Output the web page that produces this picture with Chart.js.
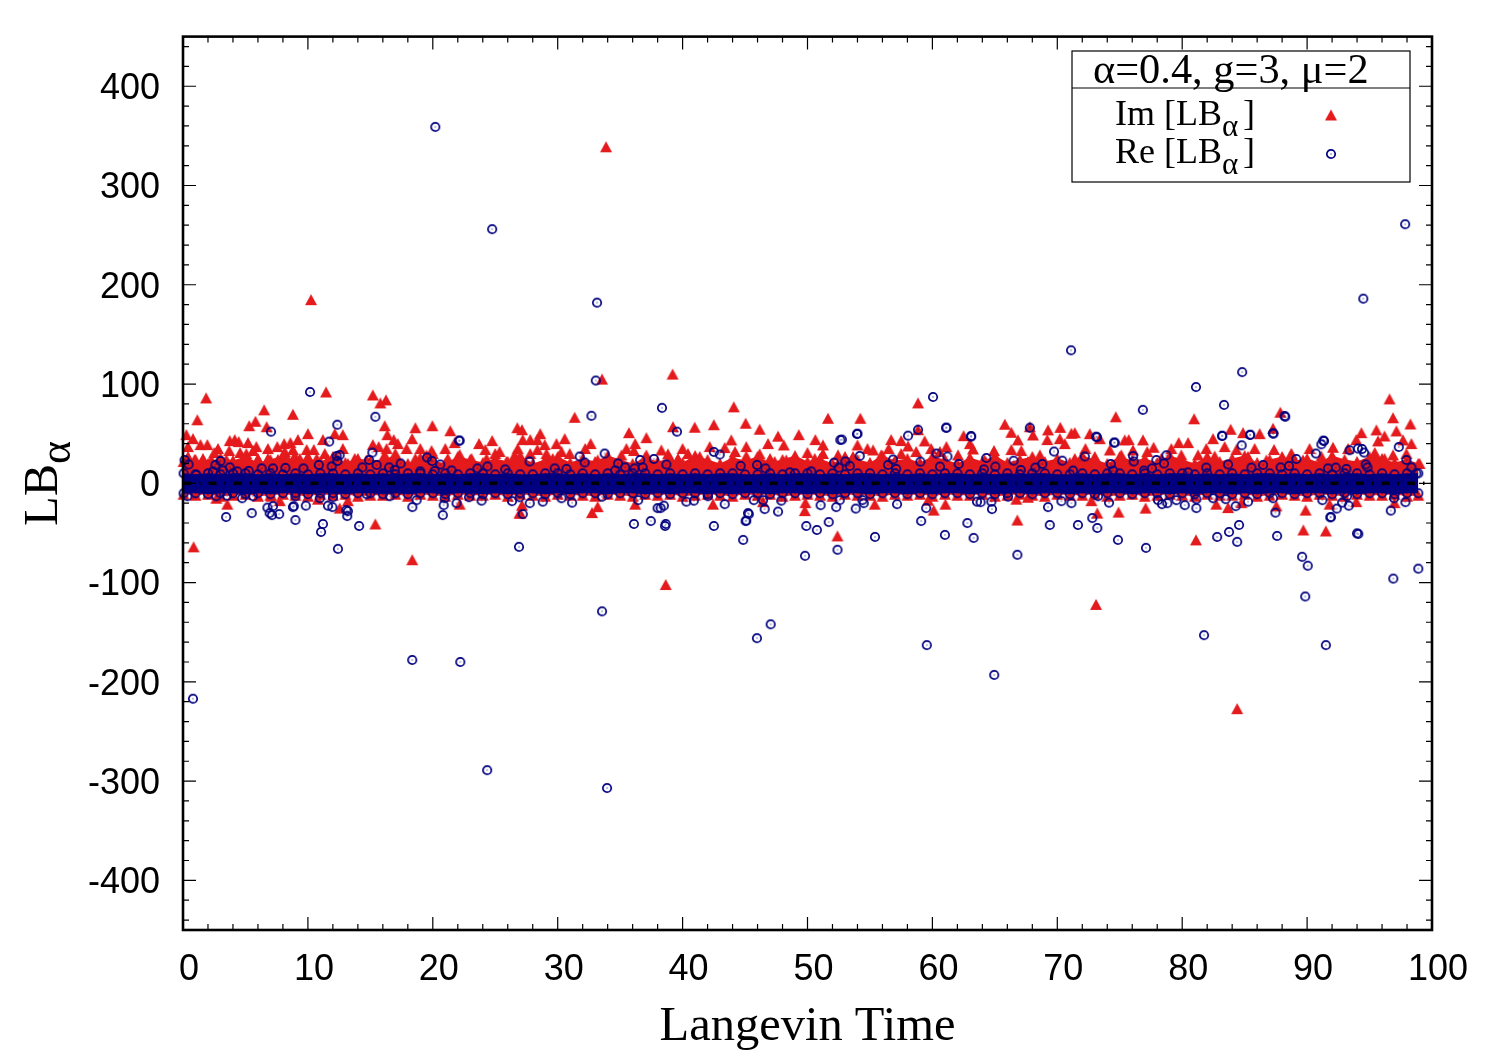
<!DOCTYPE html>
<html>
<head>
<meta charset="utf-8">
<title>LB alpha</title>
<script src="https://cdn.jsdelivr.net/npm/chart.js@4"></script>
<style>
  html, body { margin: 0; padding: 0; background: #fff; }
  #wrap { width: 1500px; height: 1050px; }
</style>
</head>
<body>
<div id="wrap"><canvas id="chart" width="1500" height="1050"></canvas></div>
<script>
const xTicks = [0, 10, 20, 30, 40, 50, 60, 70, 80, 90, 100];
const yTicks = [-400, -300, -200, -100, 0, 100, 200, 300, 400];

// Im points
const imTimes = [
  33.87,10.25,11.45,1.85,15.2,16.25,15.8,33.55,39.2,44.1,
  58.85,96.6,6.5,8.8,0.85,18.35,38.65,73.1,84.4,15.4,
  52.4,81.1,66.8,89.7,91.5,32.75,27,26.95,33.2,27.14,
  1.15,5.8,5.3,6.7,10,12.15,11.2,0.27,0.8,1.4,
  1.95,3.74,4.14,4.46,5.2,8.1,8.6,9.2,7.55,2.8,
  2.5,3.7,4.57,5.87,6.8,5.6,5.07,8.15,8.8,8.95,
  9.9,10.47,11.35,0.4,0.4,1.6,0.93,2.27,3.47,6,
  6.8,7.6,8.4,9.35,10,10.7,11.6,12.3,3.55,7.08,
  7.75,2.67,10.8,16.15,18.6,19.97,21.4,16.36,16.87,18.34,
  15.2,15.67,12.8,12.8,17.2,17.9,19,19.9,21.75,21,
  23.7,24.75,24.2,22.15,23.1,13.75,13.2,14.7,16.3,16.15,
  17,18.6,19.5,20,21.2,24.3,25,22.15,13.2,12.55,
  31.36,26.77,27.14,28.6,30.56,35.7,37.1,36.2,27.2,27.8,
  28.37,29.9,28.96,32.64,32.2,25.35,26.8,28.37,27.8,30.3,
  30.96,35.5,36.1,26.55,29.1,29.6,37.1,33.2,25.9,35.1,
  36.2,39.23,40.97,42.5,45.05,46.17,49.3,50.63,47.64,46.84,
  48.1,43.9,42.17,40,45.1,38.3,38.83,43.37,44.2,40.43,
  41.37,45.1,46.17,47,48.3,50,50.58,49.1,47.37,39.63,
  42.43,49.78,49.83,46.44,51.64,54.23,58.85,62.5,56.7,57.5,
  59.38,51.24,54,56.5,54.8,58.05,61.12,63,51.24,52.44,
  53.64,55.25,55.9,58.7,59.9,62.05,63.25,62.85,57.5,60.6,
  55.38,60.1,61.04,59.65,74.68,65.8,67.8,68.05,66.32,69.26,
  70.24,71.13,71.4,72.6,66.85,69.2,70.2,73.4,70.6,75.4,
  75.72,66.32,64.93,67.12,68.6,72.25,74.2,75.13,76.06,71.4,
  73,67.65,69.8,64.18,73.2,74.9,72.73,67.65,66.72,80.95,
  87.86,83.88,84.87,86.2,87.27,76.86,79.72,80.47,77.71,82.47,
  81.93,83.4,84.34,85.8,87.35,79.13,77.2,81.27,82.6,85.27,
  88.07,88.74,79.93,78.33,86.74,77.07,82.73,83.67,87.54,84.74,
  96.88,98.27,97.15,95.55,94.35,96.2,95.68,93.94,97.68,98.35,
  90.2,92.07,88.74,93.28,95.42,96.88,97.95,99,91.14,89.67,
  96.2,89.88,91.8,93.94,97
];
const imValues = [
  339,185,92,86,89,84,81,105,110,77,
  81,85,74,69.5,-64,-77,-102,-122,-227,-41,
  -53,-57,-37,-47,-48,-29.5,-30,-30,-23.5,-22,
  64,62.5,58,57,50,50,44,49,45,39,
  39,43,44,42,41,40,41,44,37,35,
  31,33,31,37,35,33,30,32,34,28,
  34,34,30,37,27,25,24,24,24,25,
  25,24,24,25,27,25,24,27,-21,-13,
  -17.5,-15,-16,58,56,58,53,49,44,45,
  39,37,49,35,40,35,35,33,41,35,
  40,43,34,29,25,25,20,23.5,35,28.5,
  30,25,28.5,30,25,25,30,-21,-17.5,-25,
  66.5,56,54,50,45,51,46,40,44,44,
  44,40,39,40,35,32,35,34,30,32,
  30,35,33,28.5,30,25,28.5,23.5,22,28.5,
  -21,57,56.5,59,60.5,54.5,49,44,47.5,40,
  38.6,43.7,37,35,37,33.6,29.6,36,32,30,
  27,27.5,29.6,25,23.5,31,25,20,22,25,
  -21,-27.5,-19.5,-18.5,65.5,65.5,54,48,44,43,
  42.7,38.6,38.6,35,35,37.6,37,40,30,28.6,
  27,33.6,28.6,32,35,28.6,34.6,20,30,32,
  -21,-27,-21,-17,67,59.5,57,48.7,51.4,53.8,
  56.4,50.4,51,50,43.7,44,45,45,40,43.7,
  44,34,33,33,28.6,35,33.6,28.6,33.6,25,
  27,22,20,23.5,-30,-29,-17.5,-14,-16,65,
  71.6,54.4,51,50,55.4,43.7,41,41,36.3,45,
  35,37,34,35,34,35,32,28.6,27.5,27,
  23.5,29.6,28.6,25,23.5,-25,-21,-24.5,-22.8,-19.5,
  66,59.8,52.8,53.8,51,47.7,42.7,44,43.7,40,
  35,36.3,29.6,35,31,28.6,30,20,27.5,23.5,
  25,-27,-21,-18.5,-19.5
];

// Re points
const reTimes = [
  20.2,24.75,33.15,97.85,94.5,71.1,33.05,84.8,81.1,60.05,
  83.35,38.35,76.85,88.25,10.17,15.4,32.7,61.1,12.35,7.05,
  39.55,67.8,52.75,54,63.1,73.1,74.6,58.85,58.05,83.2,
  85.45,87.3,91.3,91.35,11.7,22.1,0.8,18.35,22.2,24.35,
  33.95,33.55,45.95,47.05,59.55,64.95,81.75,89.85,91.5,98.9,
  96.9,89.6,90.05,49.8,66.8,77.1,52.4,26.9,12.4,36.1,
  37.45,38.65,38.6,42.5,44.85,45.05,45.3,49.9,50.75,51.7,
  55.4,59.1,61,62.8,63.3,69.4,71.65,72.8,73.2,74.85,
  82.8,83.75,84.4,84.55,87.6,91.9,94.1,3.45,5.5,9,
  8.8,11.05,11.2,14.1,13.15,13.2,0.13,0.45,3,2.6,
  3.74,3.2,2.4,1.07,4.35,5.26,6.3,7.2,8.2,9.64,
  10.87,11.9,12.3,12.36,6.76,7.2,6.94,7.13,7.7,8.87,
  9.83,11.6,11.96,0.35,2.67,3.52,4.73,5.6,9,10.95,
  12,22.15,15.16,14.9,15.5,14.36,17.43,16.5,19.54,19.94,
  20.6,19,20.15,21.5,23.57,24.37,12.54,16.95,18.36,20.87,
  21.9,20.8,23.9,22.9,13.08,18.7,20.95,16.55,14.7,27.75,
  31.76,32.16,33.76,34.83,36.6,37.7,29.76,30.7,35.4,36.15,
  36.8,34.6,25.8,26.34,26.95,27.76,28.8,31.15,30.3,36.44,
  27.2,33.55,38,42.5,42.97,38.7,44.65,45.96,46.63,48.58,
  50.3,38.24,38.5,40.3,40.9,43.37,45.7,46.57,47.64,45.24,
  45.1,42.03,47.9,46.44,52.63,53.96,61.12,63.1,54.18,52.12,
  53.03,52.5,53.38,56.85,56.45,59.04,60.32,61.2,62.1,57.1,
  60.6,51.05,52.3,53.86,54.5,57.17,59.5,52.58,54.4,63.57,
  74.54,73.18,69.74,70.4,72.2,64.32,66.5,65.04,68.8,68.24,
  74.28,76.07,76.12,64.13,67.07,71.26,74.46,63.86,64.77,64.72,
  69.26,70.33,71.13,74.14,66.05,73.26,88.2,83.2,85.43,87.27,
  84.76,78.73,77.93,78.54,77.58,76.94,83.67,81.93,86.47,87.88,
  88.55,89.14,85.54,80.46,78.06,78.38,78.81,79.53,80.2,81.13,
  81.13,82.47,83.48,84.28,85.27,87.27,87.46,90.7,93.4,94.07,
  94.56,94.4,97.34,97.95,94.7,94.83,91.67,92.29,93.14,98.35,
  98.75,91.22,93.2,92.37,92.8,93.33,91.86,96.7,97.87,94,
  96.96,91.14
];
const reValues = [
  359,256,182,261,186,134,103.5,112,97,87,
  79,76,74,67,92,67,68,56,59,52,
  52,56,44,50,47,47,41,54,48,48,
  49,50,43,42.7,42,43,-217,-178,-180,-289,
  -307,-129,-156,-142,-163,-193,-153,-114,-163,-86,
  -96,-74,-83,-73,-72,-65,-67,-64,-66,-41,
  -38,-41,-43,-43,-57,-38,-31,-43,-47,-39,
  -54,-38,-52,-40,-55,-42,-42,-35,-45,-57,
  -54,-49,-59,-42,-53,-34,-51,-34,-30,-37,
  -24,-49,-41,-43,-33,-28,23.5,19,22.5,18.5,
  16,13,12,8.5,12,12.5,15,15,15.5,15,
  18.5,17,27.5,22.5,-24.5,-23,-30,-32,-31,-23,
  -22.5,-22.5,-24,-13,-13,-12.5,-15,-13,-13,-15,
  -14,43,31,23.5,18.5,16,20,16,26,22.5,
  19,12,12.5,13,15,17,28.5,13.5,-24,-22,
  -20,-32,-17.5,-14,-27,-17,-15,-13,-11,22,
  27,21,30,20,23.5,24.5,15,14.5,16,15,
  16,13,14,-18,-14,-20,-18.5,-19.5,-15,-17,
  -31,-13.5,-25,31.6,29,19,17.5,18.5,15,11,
  12,-25,-22.5,-18.5,-17.5,-21,-17,-26,-28.5,-30,
  -37.6,-13,-17.5,-17,43.7,49.7,56,47.7,27.6,20.8,
  22,15.8,17.5,24,18.5,21.8,30,27,19.5,14.5,
  16.8,-22,-24,-25.5,-20,-21,-25,-17,-17,-18.5,
  41,46.4,32,22.8,27,25.5,22.8,16.8,19.5,15.8,
  19.5,27.5,22,14,13.4,12.8,12.8,-19,-26,-18.5,
  -24,-18,-20,-19.5,-13.4,-13,67.9,47.7,48.7,50.4,
  38.3,28.2,23.5,20,15,12.8,19,15.8,18.5,16,
  17.5,24.5,15.8,11,-17,-21,-20,-17,-22,-25,
  -16,-15,-16,-23,-18.5,-15,-29.6,30,33.3,35,
  31,34.6,36.6,23.5,19,16,15,15.8,14.5,16,
  10,-17,-12.8,-25.5,-19.5,-22.5,-34.3,-27.5,-19,-50.4,
  -15,39.3
];

// Solid core of the cloud, too dense to pick single markers out of
const bandTimes = [
  0.05,1,2,3,4,5,6,7,8,9,
  10,11,12,13,14,15,16,17,18,19,
  20,21,22,23,24,25,26,27,28,29,
  30,31,32,33,34,35,36,37,38,39,
  40,41,42,43,44,45,46,47,48,49,
  50,51,52,53,54,55,56,57,58,59,
  60,61,62,63,64,65,66,67,68,69,
  70,71,72,73,74,75,76,77,78,79,
  80,81,82,83,84,85,86,87,88,89,
  90,91,92,93,94,95,96,97,98,98.9
];
const imBandHigh = [
  22,24,20,26,23,27,21,24,28,22,
  25,22,27,21,25,23,24,28,20,26,
  23,20,27,24,21,25,22,28,20,24,
  27,21,25,22,28,24,20,26,22,25,
  21,28,24,20,26,23,27,21,24,28,
  22,25,20,27,24,21,28,23,25,21,
  27,24,20,26,22,28,21,24,27,22,
  25,21,28,24,20,27,23,25,21,28,
  24,20,27,22,25,28,21,24,27,23,
  25,21,28,24,22,27,25,21,24,20
];
const imBandLow = [
  -11,-12,-11,-13,-12,-11,-13,-12,-11,-12,
  -13,-11,-12,-11,-13,-12,-12,-11,-13,-11,
  -12,-13,-11,-12,-12,-11,-13,-11,-12,-13,
  -11,-12,-12,-13,-11,-12,-13,-11,-12,-11,
  -13,-12,-11,-12,-13,-11,-12,-11,-13,-12,
  -11,-12,-13,-11,-12,-12,-13,-11,-12,-11,
  -13,-11,-12,-12,-11,-13,-12,-11,-12,-13,
  -11,-12,-12,-11,-13,-12,-11,-13,-12,-11,
  -12,-13,-11,-12,-12,-11,-13,-12,-11,-12,
  -13,-11,-12,-13,-11,-12,-12,-11,-13,-12
];
const reBandHigh = [
  10,9,10,9,10,10,9,10,9,10,
  9,10,10,9,10,9,10,9,10,10,
  9,10,9,10,10,9,10,9,9,10,
  10,9,10,9,10,9,10,10,9,10,
  9,10,9,10,10,9,9,10,9,10,
  10,9,10,9,10,10,9,10,9,10,
  9,10,10,9,10,9,10,9,10,10,
  9,9,10,9,10,10,9,10,9,10,
  10,9,10,9,10,9,10,10,9,10,
  9,10,9,10,10,9,10,9,10,10
];
const reBandLow = [
  -10,-10,-11,-10,-10,-11,-10,-11,-10,-10,
  -11,-10,-10,-11,-10,-10,-11,-10,-11,-10,
  -10,-11,-10,-10,-11,-10,-11,-10,-10,-11,
  -10,-11,-10,-10,-11,-10,-10,-11,-10,-11,
  -10,-10,-11,-10,-11,-10,-10,-11,-10,-10,
  -11,-10,-11,-10,-10,-11,-10,-10,-11,-10,
  -11,-10,-10,-11,-10,-11,-10,-10,-11,-10,
  -10,-11,-10,-11,-10,-10,-11,-10,-10,-11,
  -10,-11,-10,-10,-11,-10,-11,-10,-10,-11,
  -10,-10,-11,-10,-11,-10,-10,-11,-10,-10
];
const zeroTimes = [0, 100];
const zeroValues = [0, 0];

const RED = '#e41a1c';
const BLUE = '#000080';
const SANS = '"Liberation Sans", Arial, sans-serif';
const SERIF = '"Liberation Serif", "Times New Roman", serif';

function toPoints(times, values) {
  return times.map((t, i) => ({ x: t, y: values[i] }));
}

// gnuplot style markers
function triangleMarker() {
  const c = document.createElement('canvas');
  c.width = 14; c.height = 13;
  const g = c.getContext('2d');
  g.fillStyle = RED;
  g.beginPath();
  g.moveTo(7, 1);
  g.lineTo(13, 12);
  g.lineTo(1, 12);
  g.closePath();
  g.fill();
  return c;
}

function circleMarker() {
  const c = document.createElement('canvas');
  c.width = 12; c.height = 12;
  const g = c.getContext('2d');
  g.strokeStyle = BLUE;
  g.lineWidth = 1.7;
  g.beginPath();
  g.arc(6, 6, 4.2, 0, Math.PI * 2);
  g.stroke();
  g.fillStyle = BLUE;
  g.fillRect(5.5, 5.5, 1, 1);
  return c;
}

const triangle = triangleMarker();
const circle = circleMarker();

// text with a subscript part, written left to right from the current origin
function drawSub(ctx, text, sub, x, y, size, subSize, drop) {
  ctx.font = size + 'px ' + SERIF;
  ctx.fillText(text, x, y);
  const w = ctx.measureText(text).width;
  ctx.font = subSize + 'px ' + SERIF;
  ctx.fillText(sub, x + w, y + drop);
  return x + w + ctx.measureText(sub).width;
}

const framePlugin = {
  id: 'frame',
  afterDatasetsDraw(chart) {
    const ctx = chart.ctx;
    const a = chart.chartArea;
    const xs = chart.scales.x;
    const ys = chart.scales.y;
    ctx.save();
    ctx.strokeStyle = '#000';
    ctx.lineWidth = 1.2;
    ctx.beginPath();
    for (let v = 0; v <= 100; v += 2) {
      const p = xs.getPixelForValue(v);
      const len = v % 10 === 0 ? 13 : 6;
      ctx.moveTo(p, a.bottom); ctx.lineTo(p, a.bottom - len);
      ctx.moveTo(p, a.top); ctx.lineTo(p, a.top + len);
    }
    for (let v = -440; v <= 440; v += 20) {
      const p = ys.getPixelForValue(v);
      const len = v % 100 === 0 ? 13 : 6;
      ctx.moveTo(a.left, p); ctx.lineTo(a.left + len, p);
      ctx.moveTo(a.right, p); ctx.lineTo(a.right - len, p);
    }
    ctx.stroke();
    ctx.lineWidth = 2.6;
    ctx.strokeRect(a.left, a.top, a.right - a.left, a.bottom - a.top);
    ctx.restore();
  },
  afterDraw(chart) {
    const ctx = chart.ctx;
    ctx.save();
    // legend box
    ctx.fillStyle = '#fff';
    ctx.fillRect(1072, 51, 338, 131);
    ctx.strokeStyle = '#000';
    ctx.lineWidth = 1.2;
    ctx.strokeRect(1072, 51, 338, 131);
    ctx.beginPath();
    ctx.moveTo(1072, 88); ctx.lineTo(1410, 88);
    ctx.stroke();
    ctx.fillStyle = '#000';
    ctx.textAlign = 'left';
    ctx.textBaseline = 'alphabetic';
    ctx.font = '42.4px ' + SERIF;
    ctx.fillText('\u03b1=0.4, g=3, \u03bc=2', 1093, 83);
    drawSub(ctx, 'Im [LB', '\u03b1', 1115, 125, 36, 31, 11);
    ctx.font = '36px ' + SERIF;
    ctx.fillText(']', 1243, 125);
    drawSub(ctx, 'Re [LB', '\u03b1', 1115, 163, 36, 31, 11);
    ctx.font = '36px ' + SERIF;
    ctx.fillText(']', 1243, 163);
    ctx.drawImage(triangle, 1331 - 7, 115 - 6.5);
    ctx.drawImage(circle, 1331 - 6, 154 - 6);
    // y axis title
    ctx.translate(57, 526);
    ctx.rotate(-Math.PI / 2);
    drawSub(ctx, 'LB', '\u03b1', 0, 0, 48.5, 44, 13);
    ctx.restore();
  }
};

new Chart(document.getElementById('chart'), {
  type: 'scatter',
  data: {
    datasets: [
      { label: 'zero', data: toPoints(zeroTimes, zeroValues), showLine: true, pointRadius: 0,
        borderColor: '#000', borderWidth: 3.5, borderDash: [8, 8, 1.5, 8], order: 0 },
      { label: 'Re [LB\u03b1]', data: toPoints(reTimes, reValues), pointStyle: circle, clip: false, order: 1 },
      { label: 're high', data: toPoints(bandTimes, reBandHigh), showLine: true, borderWidth: 0, borderColor: BLUE,
        backgroundColor: BLUE, fill: '+1', pointStyle: circle, clip: false, order: 2 },
      { label: 're low', data: toPoints(bandTimes, reBandLow), showLine: true, borderWidth: 0, borderColor: BLUE,
        pointStyle: circle, clip: false, order: 2 },
      { label: 'Im [LB\u03b1]', data: toPoints(imTimes, imValues), pointStyle: triangle, clip: false, order: 3 },
      { label: 'im high', data: toPoints(bandTimes, imBandHigh), showLine: true, borderWidth: 0, borderColor: RED,
        backgroundColor: RED, fill: '+1', pointStyle: triangle, clip: false, order: 4 },
      { label: 'im low', data: toPoints(bandTimes, imBandLow), showLine: true, borderWidth: 0, borderColor: RED,
        pointStyle: triangle, clip: false, order: 4 }
    ]
  },
  options: {
    responsive: false,
    animation: false,
    events: [],
    layout: { padding: { top: 35, right: 68, left: 0, bottom: 0 } },
    plugins: { legend: { display: false }, tooltip: { enabled: false } },
    scales: {
      x: {
        type: 'linear',
        min: 0,
        max: 100,
        afterFit: s => { s.height = 120; },
        afterBuildTicks: s => { s.ticks = xTicks.map(v => ({ value: v })); },
        grid: { display: false },
        border: { display: false },
        ticks: { color: '#000', font: { family: SANS, size: 36 }, padding: 10, labelOffset: 6, maxRotation: 0, autoSkip: false },
        title: { display: true, text: 'Langevin Time', color: '#000', font: { family: SERIF, size: 48.5 }, padding: { top: 0, bottom: -6 } }
      },
      y: {
        type: 'linear',
        min: -450,
        max: 450,
        afterFit: s => { s.width = 183; },
        afterBuildTicks: s => { s.ticks = yTicks.map(v => ({ value: v })); },
        grid: { display: false },
        border: { display: false },
        ticks: { color: '#000', font: { family: SANS, size: 36 }, padding: 15, labelOffset: 3, autoSkip: false }
      }
    }
  },
  plugins: [framePlugin]
});
</script>
</body>
</html>
